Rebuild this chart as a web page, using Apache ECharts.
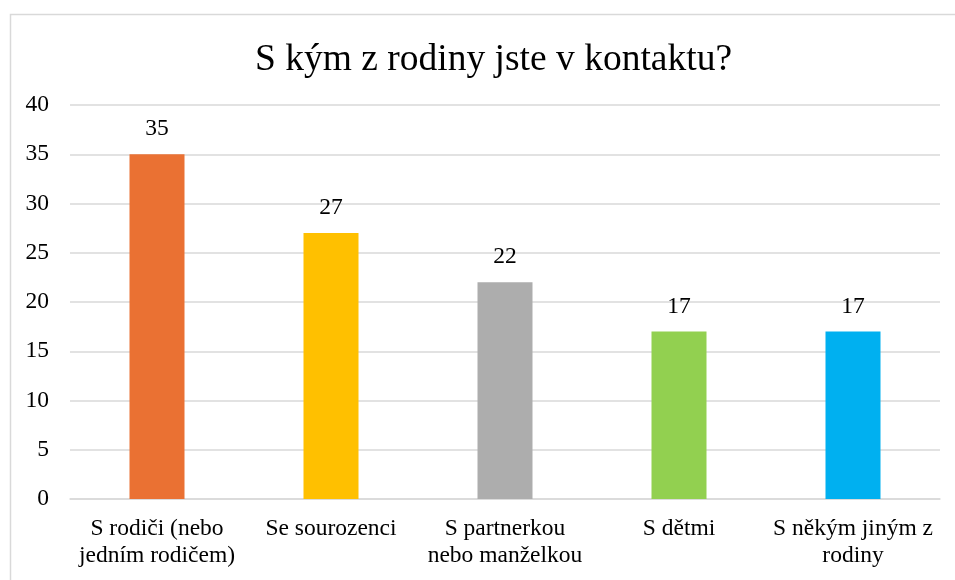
<!DOCTYPE html>
<html>
<head>
<meta charset="utf-8">
<script src="https://cdn.jsdelivr.net/npm/echarts@6/dist/echarts.min.js"></script>
<style>html,body{margin:0;padding:0;background:#fff;}#c{width:955px;height:580px;}</style>
</head>
<body>
<div id="c"></div>
<script>
const titleText = 'S kým z rodiny jste v kontaktu?';
const categories = ['S rodiči (nebo\njedním rodičem)', 'Se sourozenci', 'S partnerkou\nnebo manželkou', 'S dětmi', 'S někým jiným z\nrodiny'];
const values = [35, 27, 22, 17, 17];
const colors = ['#EA7133', '#FFC000', '#ADADAD', '#92D050', '#00B0F0'];
const yTicks = {min: 0, max: 40, interval: 5};

const font = '"Liberation Serif", "Times New Roman", serif';
const chart = echarts.init(document.getElementById('c'));
chart.setOption({
  animation: false,
  backgroundColor: '#fff',
  title: {
    text: titleText, left: 250, top: 36,
    textStyle: {fontFamily: font, fontSize: 37.5, fontWeight: 'normal', color: '#000'}
  },
  graphic: [{
    type: 'rect', left: 8, top: 12, shape: {width: 1000, height: 620},
    style: {fill: 'none', stroke: '#D9D9D9', lineWidth: 1.5}, silent: true
  }],
  grid: {left: 70, right: 15, top: 105, bottom: 81},
  xAxis: {
    type: 'category', data: categories,
    axisLine: {lineStyle: {color: '#D9D9D9', width: 1.5}},
    axisTick: {show: false},
    axisLabel: {fontFamily: font, fontSize: 23.5, color: '#000', margin: 16, lineHeight: 27, interval: 0}
  },
  yAxis: {
    type: 'value', min: yTicks.min, max: yTicks.max, interval: yTicks.interval,
    axisLine: {show: false}, axisTick: {show: false},
    splitLine: {lineStyle: {color: '#D9D9D9', width: 1.5}},
    axisLabel: {fontFamily: font, fontSize: 23.5, color: '#000', margin: 21}
  },
  series: [{
    type: 'bar', barWidth: 55,
    data: values.map((v, i) => ({value: v, itemStyle: {color: colors[i]}})),
    label: {show: true, position: 'top', distance: 13, fontFamily: font, fontSize: 23.5, color: '#000'}
  }]
});
</script>
</body>
</html>
